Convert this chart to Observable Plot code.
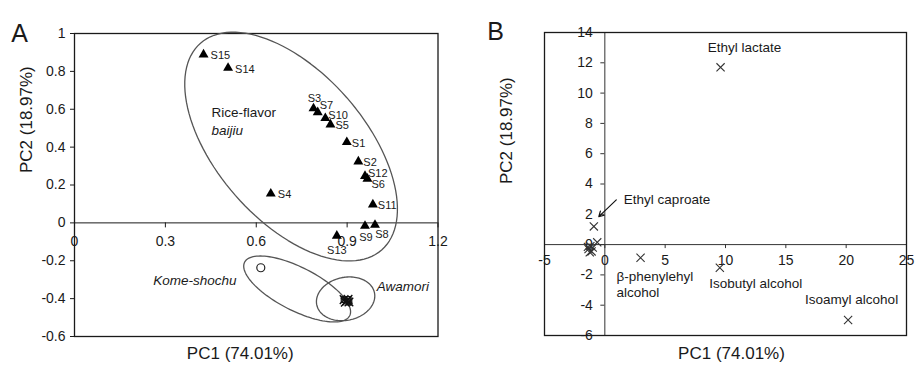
<!DOCTYPE html>
<html>
<head>
<meta charset="utf-8">
<script src="https://cdn.jsdelivr.net/npm/d3@7"></script>
<script src="https://cdn.jsdelivr.net/npm/@observablehq/plot@0.6"></script>
<style>
  html, body { margin: 0; padding: 0; background: #fff; }
  #wrap { display: flex; width: 915px; height: 371px; }
  #wrap svg { display: block; }
</style>
</head>
<body>
<div id="wrap"></div>
<script>
// ---------- Panel A data ----------
const samples = ["S1","S2","S3","S4","S5","S6","S7","S8","S9","S10","S11","S12","S13","S14","S15"];
const samplePC1 = [0.899,0.937,0.789,0.648,0.845,0.967,0.803,0.992,0.959,0.828,0.985,0.959,0.866,0.507,0.426];
const samplePC2 = [0.426,0.324,0.604,0.154,0.519,0.233,0.584,-0.011,-0.016,0.553,0.097,0.247,-0.068,0.818,0.889];

const komePC1 = [0.615];
const komePC2 = [-0.237];

const awamoriPC1 = [0.890,0.899,0.906,0.894,0.903,0.899];
const awamoriPC2 = [-0.405,-0.412,-0.418,-0.419,-0.404,-0.411];

const xTicksA = [0, 0.3, 0.6, 0.9, 1.2];
const xTickLabelsA = ["0","0.3","0.6","0.9","1.2"];
const yTicksA = [-0.6,-0.4,-0.2,0,0.2,0.4,0.6,0.8,1];
const yTickLabelsA = ["-0.6","-0.4","-0.2","0","0.2","0.4","0.6","0.8","1"];

// group ellipses (centre + two semi-axis vectors, data units)
const ellipseNames = ["Rice-flavor","Kome-shochu","Awamori"];
const ellipseCx = [0.715, 0.735, 0.895];
const ellipseCy = [0.403, -0.349, -0.401];
const ellipseUx = [0.299, 0.1734, 0.0952];
const ellipseUy = [-0.546, -0.1414, 0.0324];
const ellipseVx = [-0.184, -0.0323, 0.0147];
const ellipseVy = [-0.258, -0.1016, -0.111];

// group labels (data units)
const groupLabelText = ["Rice-flavor", "baijiu", "Kome-shochu", "Awamori"];
const groupLabelX = [0.452, 0.452, 0.260, 0.998];
const groupLabelY = [0.584, 0.488, -0.304, -0.336];
const groupLabelItalic = [false, true, true, true];

// ---------- Panel B data ----------
const compounds = ["Ethyl lactate","Isoamyl alcohol","Isobutyl alcohol","β-phenylehyl\nalcohol","Ethyl caproate","","","","","","",""];
const loadPC1 = [9.59, 20.16, 9.53, 2.96, -0.91, -0.63, -1.20, -1.35, -1.10, -1.00, -1.40, -1.25];
const loadPC2 = [11.70, -4.98, -1.53, -0.87, 1.20, 0.15, -0.10, -0.30, -0.45, -0.20, -0.15, -0.50];
const xTicksB = [-5, 0, 5, 10, 15, 20, 25];
const yTicksB = [-6, -4, -2, 0, 2, 4, 6, 8, 10, 12, 14];
const caproateArrow = {x1: 0.95, y1: 2.95, x2: -0.50, y2: 1.85};

// ---------- layout / style (not data) ----------
const FONT = "'Liberation Sans', Arial, Helvetica, sans-serif";
const INK = "#1a1a1a";
const labelLayoutA = {
  S3: [1, -10, "middle"], S7: [2, -7, "start"], S10: [3, -3, "start"], S12: [3, -3, "start"],
  S6: [4, 6, "start"], S9: [1, 12, "middle"], S8: [7, 10, "middle"], S13: [0, 15, "middle"],
  S4: [7, 1, "start"], S14: [7, 2, "start"], S15: [7, 1, "start"]
};
const labelLayoutB = {
  "Ethyl lactate": [24, -20, "middle"], "Isoamyl alcohol": [3.5, -21.5, "middle"],
  "Isobutyl alcohol": [36, 15, "middle"], "β-phenylehyl\nalcohol": [-24, 26, "start"],
  "Ethyl caproate": [30, -27.5, "start"]
};

function ellipsePoints(k) {
  return d3.range(0, 361, 3).map(deg => {
    const t = deg * Math.PI / 180;
    return {
      x: ellipseCx[k] + ellipseUx[k] * Math.cos(t) + ellipseVx[k] * Math.sin(t),
      y: ellipseCy[k] + ellipseUy[k] * Math.cos(t) + ellipseVy[k] * Math.sin(t)
    };
  });
}

// ---------- Panel A ----------
const idxA = d3.range(samples.length);
const sampleTextMarks = idxA.map(i => {
  const [dx, dy, anchor] = labelLayoutA[samples[i]] || [5, 1, "start"];
  return Plot.text([i], {x: i => samplePC1[i], y: i => samplePC2[i], text: i => samples[i],
    dx, dy, textAnchor: anchor, fontSize: 11, fill: INK});
});
const groupTextMarks = groupLabelText.map((t, k) => Plot.text([k], {
  x: k => groupLabelX[k], y: k => groupLabelY[k], text: k => groupLabelText[k],
  textAnchor: "start", fontSize: 13.5, fill: INK, fontStyle: groupLabelItalic[k] ? "italic" : "normal"
}));
const awIdx = d3.range(awamoriPC1.length);

const plotA = Plot.plot({
  width: 460, height: 371,
  marginLeft: 74, marginRight: 22.5, marginTop: 33, marginBottom: 35,
  x: {domain: [0, 1.2], axis: null},
  y: {domain: [-0.6, 1], axis: null},
  style: {fontFamily: FONT, background: "#fff", color: INK, overflow: "visible"},
  marks: [
    // axes
    Plot.ruleY([0], {stroke: INK, strokeWidth: 1}),
    Plot.ruleX(xTicksA, {x: d => d, y1: 0, y2: 0, insetBottom: -5, stroke: INK}),
    Plot.text(xTicksA, {x: d => d, y: 0, text: (d, i) => xTickLabelsA[i], dy: 19, fontSize: 14, fill: INK}),
    Plot.ruleY(yTicksA, {y: d => d, x1: 0, x2: 0, insetLeft: -4, stroke: INK}),
    Plot.text(yTicksA, {x: 0, y: d => d, text: (d, i) => yTickLabelsA[i], dx: -9, textAnchor: "end", fontSize: 14, fill: INK}),
    Plot.frame({stroke: INK, strokeWidth: 1.3}),
    // ellipses
    ...ellipseNames.map((n, k) => Plot.line(ellipsePoints(k), {x: "x", y: "y", stroke: "#555", strokeWidth: 1.3, curve: "linear-closed"})),
    // points
    Plot.dot(idxA, {x: i => samplePC1[i], y: i => samplePC2[i], symbol: "triangle", r: 3.7, fill: "#000", stroke: "none"}),
    ...sampleTextMarks,
    Plot.dot(komePC1.map((v, i) => i), {x: i => komePC1[i], y: i => komePC2[i], r: 4, stroke: "#222", fill: "#fff", strokeWidth: 1.2}),
    Plot.dot(awIdx, {x: i => awamoriPC1[i], y: i => awamoriPC2[i], symbol: "times", r: 4, stroke: "#111", strokeWidth: 1.4}),
    Plot.dot(awIdx.filter(i => i % 2 === 0), {x: i => awamoriPC1[i], y: i => awamoriPC2[i], symbol: "square", r: 3.2, stroke: "#111", fill: "none", strokeWidth: 1.2}),
    ...groupTextMarks,
    // titles
    Plot.text(["A"], {frameAnchor: "top-left", text: d => d, dx: -55, dy: -9, fontSize: 25, fill: INK, textAnchor: "middle"}),
    Plot.text(["PC1 (74.01%)"], {frameAnchor: "bottom", text: d => d, dx: -16, dy: 22, fontSize: 17, fill: INK}),
    Plot.text(["PC2 (18.97%)"], {frameAnchor: "left", text: d => d, dx: -48, dy: -12, rotate: -90, fontSize: 17, fill: INK})
  ]
});

// ---------- Panel B ----------
const idxB = d3.range(compounds.length);
const compTextMarks = idxB.filter(i => compounds[i]).map(i => {
  const [dx, dy, anchor] = labelLayoutB[compounds[i]];
  return Plot.text([i], {x: i => loadPC1[i], y: i => loadPC2[i], text: i => compounds[i],
    dx, dy, textAnchor: anchor, fontSize: 13.5, lineHeight: 1.16, fill: INK});
});

const plotB = Plot.plot({
  width: 455, height: 371,
  marginLeft: 84, marginRight: 9, marginTop: 32, marginBottom: 36,
  x: {domain: [-5, 25], axis: null},
  y: {domain: [-6, 14], axis: null},
  style: {fontFamily: FONT, background: "#fff", color: INK, overflow: "visible"},
  marks: [
    Plot.ruleY([0], {stroke: "#333", strokeWidth: 1}),
    Plot.ruleX([0], {stroke: "#333", strokeWidth: 1}),
    Plot.ruleX(xTicksB, {x: d => d, y1: 0, y2: 0, insetBottom: -4, stroke: "#333"}),
    Plot.text(xTicksB, {x: d => d, y: 0, text: d => String(d), dy: 16, fontSize: 14, fill: INK}),
    Plot.ruleY(yTicksB, {y: d => d, x1: 0, x2: 0, insetLeft: -4, stroke: "#333"}),
    Plot.text(yTicksB, {x: 0, y: d => d, text: d => String(d), dx: -12, textAnchor: "end", fontSize: 14, fill: INK}),
    Plot.frame({stroke: INK, strokeWidth: 1.3}),
    Plot.dot(idxB, {x: i => loadPC1[i], y: i => loadPC2[i], symbol: "times", r: 3.8, stroke: "#333", strokeWidth: 1.1}),
    ...compTextMarks,
    Plot.arrow([caproateArrow], {x1: "x1", y1: "y1", x2: "x2", y2: "y2", stroke: "#111", strokeWidth: 1.2, headLength: 7}),
    Plot.text(["B"], {frameAnchor: "top-left", text: d => d, dx: -49, dy: -10.5, fontSize: 25, fill: INK, textAnchor: "middle"}),
    Plot.text(["PC1 (74.01%)"], {frameAnchor: "bottom", text: d => d, dx: 6, dy: 23, fontSize: 17, fill: INK}),
    Plot.text(["PC2 (18.97%)"], {frameAnchor: "left", text: d => d, dx: -38, rotate: -90, fontSize: 17, fill: INK})
  ]
});

document.getElementById("wrap").append(plotA, plotB);
</script>
</body>
</html>
